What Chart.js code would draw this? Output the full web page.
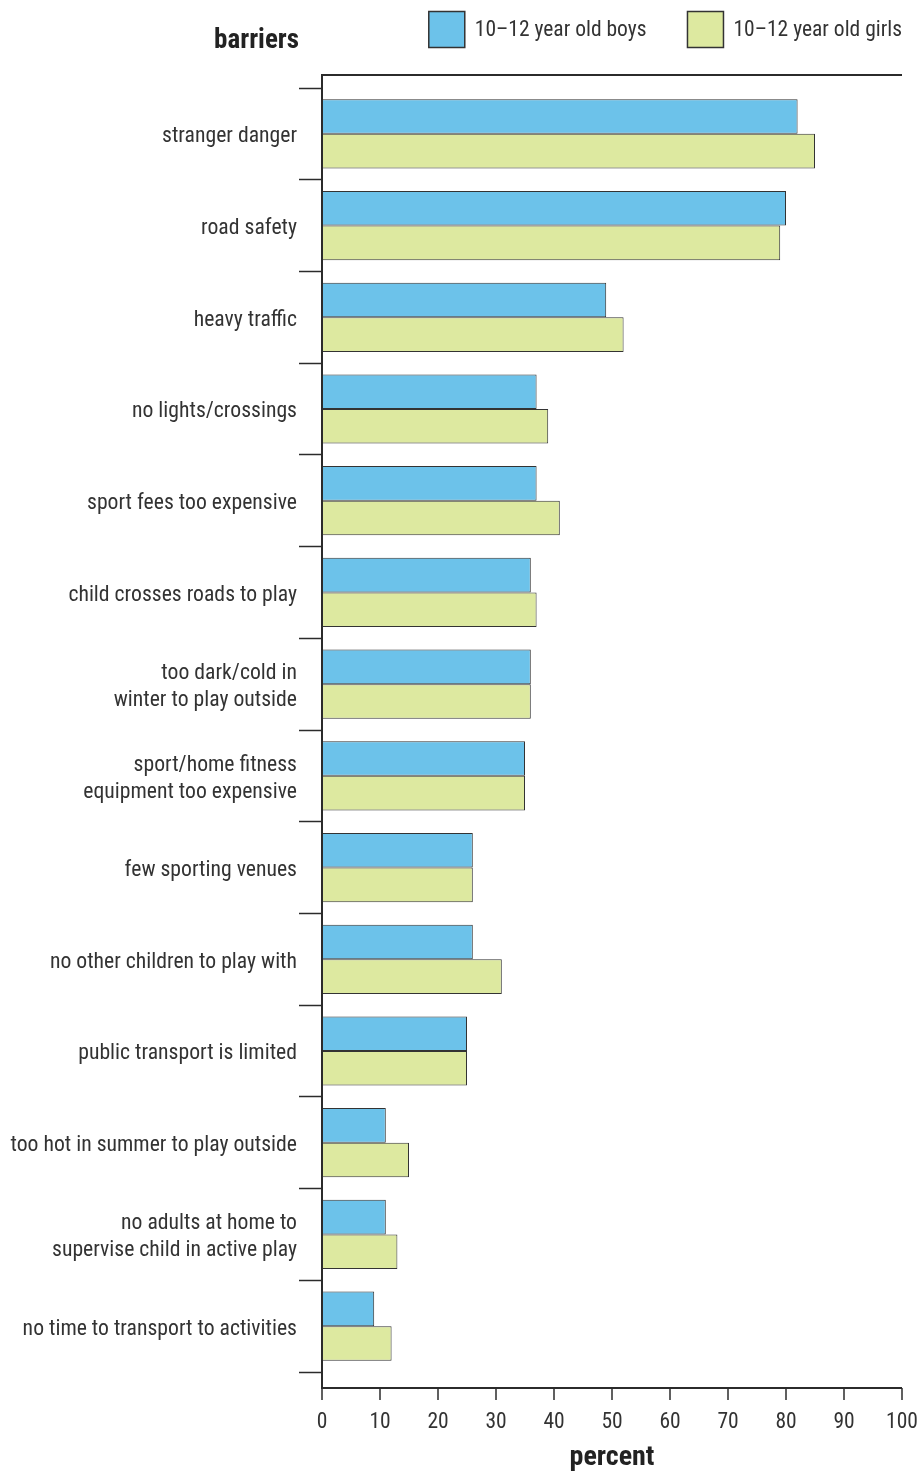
<!DOCTYPE html>
<html>
<head>
<meta charset="utf-8">
<script src="https://cdn.jsdelivr.net/npm/chart.js@4.4.1/dist/chart.umd.min.js"></script>
<style>
  html, body { margin: 0; padding: 0; background: #fff; }
  #wrap { width: 922px; height: 1473px; position: relative; }
</style>
</head>
<body>
<div id="wrap"><canvas id="myChart"></canvas></div>
<script>
const barreiras = [
  "stranger danger",
  "road safety",
  "heavy traffic",
  "no lights/crossings",
  "sport fees too expensive",
  "child crosses roads to play",
  ["too dark/cold in", "winter to play outside"],
  ["sport/home fitness", "equipment too expensive"],
  "few sporting venues",
  "no other children to play with",
  "public transport is limited",
  "too hot in summer to play outside",
  ["no adults at home to", "supervise child in active play"],
  "no time to transport to activities"
];
const meninos = [82, 80, 49, 37, 37, 36, 36, 35, 26, 26, 25, 11, 11, 9];
const meninas = [85, 79, 52, 39, 41, 37, 36, 35, 26, 31, 25, 15, 13, 12];
const xTicks = [0, 10, 20, 30, 40, 50, 60, 70, 80, 90, 100];

const fonte = '"Roboto Condensed", "Liberation Sans Narrow", Roboto, sans-serif';
const corTexto = "#333";
const corEixo = "#2b2b2b";

// moldura, legenda e titulo "barriers"
const moldura = {
  id: "moldura",
  afterDraw(chart) {
    const { ctx, chartArea } = chart;
    const x = chart.scales.x;
    const topo = chartArea.top - 13;
    const base = chartArea.bottom + 16;
    ctx.save();
    ctx.strokeStyle = corEixo;
    ctx.lineWidth = 2;
    ctx.beginPath();
    ctx.moveTo(chartArea.right, topo);
    ctx.lineTo(chartArea.left, topo);
    ctx.lineTo(chartArea.left, base);
    ctx.lineTo(chartArea.right, base);
    ctx.stroke();
    ctx.lineWidth = 1.5;
    xTicks.forEach((v) => {
      const px = x.getPixelForValue(v);
      ctx.beginPath();
      ctx.moveTo(px, base);
      ctx.lineTo(px, base + 12);
      ctx.stroke();
    });

    ctx.fillStyle = "#222";
    ctx.font = "bold 27px " + fonte;
    ctx.textAlign = "right";
    ctx.textBaseline = "alphabetic";
    ctx.fillText("barriers", chartArea.left - 23, 48);

    // legenda desenhada da direita para a esquerda
    ctx.font = "21.5px " + fonte;
    ctx.textAlign = "left";
    ctx.textBaseline = "middle";
    const caixa = 36;
    let cx = chartArea.right;
    const itens = chart.data.datasets.slice().reverse();
    itens.forEach((ds) => {
      const w = ctx.measureText(ds.label).width;
      cx -= w;
      ctx.fillStyle = corTexto;
      ctx.fillText(ds.label, cx, 31);
      cx -= 10 + caixa;
      ctx.fillStyle = ds.backgroundColor;
      ctx.fillRect(cx, 11.5, caixa, caixa);
      ctx.strokeStyle = "#333";
      ctx.lineWidth = 1.5;
      ctx.strokeRect(cx, 11.5, caixa, caixa);
      cx -= 41;
    });
    ctx.restore();
  }
};

const ctx = document.getElementById("myChart");
new Chart(ctx, {
  type: "bar",
  data: {
    labels: barreiras,
    datasets: [
      {
        label: "10\u201312 year old boys",
        data: meninos,
        backgroundColor: "#6cc2ea",
        borderColor: "#333",
        borderWidth: 1,
        borderSkipped: false
      },
      {
        label: "10\u201312 year old girls",
        data: meninas,
        backgroundColor: "#dde9a0",
        borderColor: "#333",
        borderWidth: 1,
        borderSkipped: false
      }
    ]
  },
  options: {
    indexAxis: "y",
    responsive: true,
    maintainAspectRatio: false,
    animation: false,
    categoryPercentage: 0.755,
    barPercentage: 1.0,
    layout: { padding: { left: 0, right: 20, top: 88, bottom: 0 } },
    plugins: {
      tooltip: { enabled: false },
      legend: { display: false }
    },
    scales: {
      x: {
        min: 0,
        max: 100,
        afterFit(scale) {
          scale.height = 101;
          scale.paddingLeft = 0;
          scale.paddingRight = 0;
        },
        afterBuildTicks(scale) { scale.ticks = xTicks.map((v) => ({ value: v })); },
        grid: { display: false },
        border: { display: false },
        ticks: {
          padding: 30,
          color: corTexto,
          font: { family: fonte, size: 21.5 }
        },
        title: {
          display: true,
          text: "percent",
          color: "#222",
          padding: { top: 0, bottom: 0 },
          font: { family: fonte, size: 28, weight: "bold", lineHeight: 1.1 }
        }
      },
      y: {
        afterFit(scale) {
          scale.width = 322;
          scale.paddingTop = 0;
          scale.paddingBottom = 0;
        },
        grid: {
          offset: true,
          drawOnChartArea: false,
          drawTicks: true,
          tickLength: 23,
          tickWidth: 1.5,
          tickColor: corEixo
        },
        border: { display: false },
        ticks: {
          padding: 2,
          labelOffset: 3,
          color: corTexto,
          font: { family: fonte, size: 21.7, lineHeight: 1.25 }
        }
      }
    }
  },
  plugins: [moldura]
});
</script>
</body>
</html>
